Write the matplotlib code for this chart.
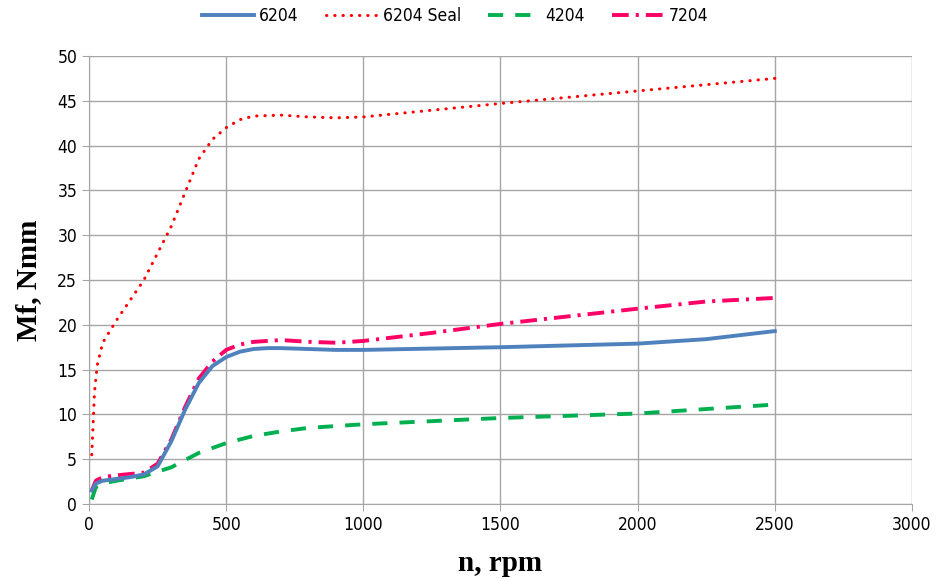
import matplotlib.pyplot as plt

# bearing friction moment vs. speed
n_6204 = [10, 25, 50, 100, 150, 200, 250, 300, 350, 400, 450, 500, 550, 600, 650, 700, 800, 900, 1000, 1500, 2000, 2250, 2500]
mf_6204 = [1.5, 2.3, 2.6, 2.8, 3.0, 3.3, 4.2, 7.0, 10.5, 13.5, 15.4, 16.4, 17.0, 17.3, 17.4, 17.4, 17.3, 17.2, 17.2, 17.5, 17.9, 18.4, 19.3]

n_seal = [10, 20, 30, 50, 100, 200, 300, 400, 450, 500, 550, 600, 700, 800, 900, 1000, 1500, 2000, 2500]
mf_seal = [5.5, 12.5, 15.5, 18.0, 20.5, 25.0, 31.0, 38.5, 40.7, 42.0, 42.9, 43.3, 43.4, 43.2, 43.1, 43.2, 44.7, 46.1, 47.5]

n_4204 = [10, 25, 50, 100, 200, 300, 400, 500, 600, 700, 800, 1000, 1500, 2000, 2500]
mf_4204 = [0.5, 1.9, 2.3, 2.6, 3.1, 4.1, 5.7, 6.8, 7.6, 8.1, 8.5, 8.9, 9.6, 10.1, 11.1]

n_7204 = [10, 25, 50, 100, 200, 250, 300, 350, 400, 450, 500, 550, 600, 700, 800, 900, 1000, 1250, 1500, 2000, 2250, 2500]
mf_7204 = [1.5, 2.6, 3.0, 3.2, 3.5, 4.5, 7.2, 10.8, 14.0, 15.9, 17.2, 17.8, 18.1, 18.3, 18.1, 18.0, 18.2, 19.1, 20.1, 21.8, 22.6, 23.0]

label_font = ['DejaVu Sans']

fig = plt.figure(figsize=(9.39, 5.81), dpi=100)
ax = fig.add_axes([0.0948, 0.1325, 0.8764, 0.7711])

ax.plot(n_6204, mf_6204, color='#4F81BD', lw=2.8, label='6204', zorder=4)
ax.plot(n_seal, mf_seal, color='#FF0000', lw=2.2, linestyle=(0, (0.1, 2.6)), dash_capstyle='round', label='6204 Seal', zorder=3)
ax.plot(n_4204, mf_4204, color='#00B050', lw=2.8, linestyle=(0, (3.9, 3.1)), label='4204', zorder=2)
ax.plot(n_7204, mf_7204, color='#FF0066', lw=2.8, linestyle=(0, (4.3, 1.8, 0.8, 1.8)), label='7204', zorder=3)

ax.set_xlim(0, 3000)
ax.set_ylim(0, 50)
ax.set_xticks(range(0, 3001, 500))
ax.set_yticks(range(0, 51, 5))
ax.grid(True, color='#A6A6A6', lw=1)
ax.set_axisbelow(True)
for s in ax.spines.values():
    s.set_color('#A6A6A6')
ax.spines['top'].set_visible(False)
ax.spines['right'].set_visible(False)
ax.tick_params(direction='out', length=5, color='#A6A6A6', labelsize=12.5, labelcolor='black')
for lbl in ax.get_xticklabels() + ax.get_yticklabels():
    lbl.set_family(label_font)
    lbl.set_stretch('condensed')

ax.set_xlabel('n, rpm', family='Liberation Serif', fontweight='bold', fontsize=21, labelpad=12)
ax.set_ylabel('Mf, Nmm', family='Liberation Serif', fontweight='bold', fontsize=21, labelpad=11)

leg = ax.legend(loc='upper center', bbox_to_anchor=(0.445, 1.145), ncol=4, frameon=False,
                fontsize=12.5, handlelength=3.0, columnspacing=1.55, handletextpad=0.3)
for t in leg.get_texts():
    t.set_family(label_font)
    t.set_stretch('condensed')

fig.savefig('out.png', dpi=100)
